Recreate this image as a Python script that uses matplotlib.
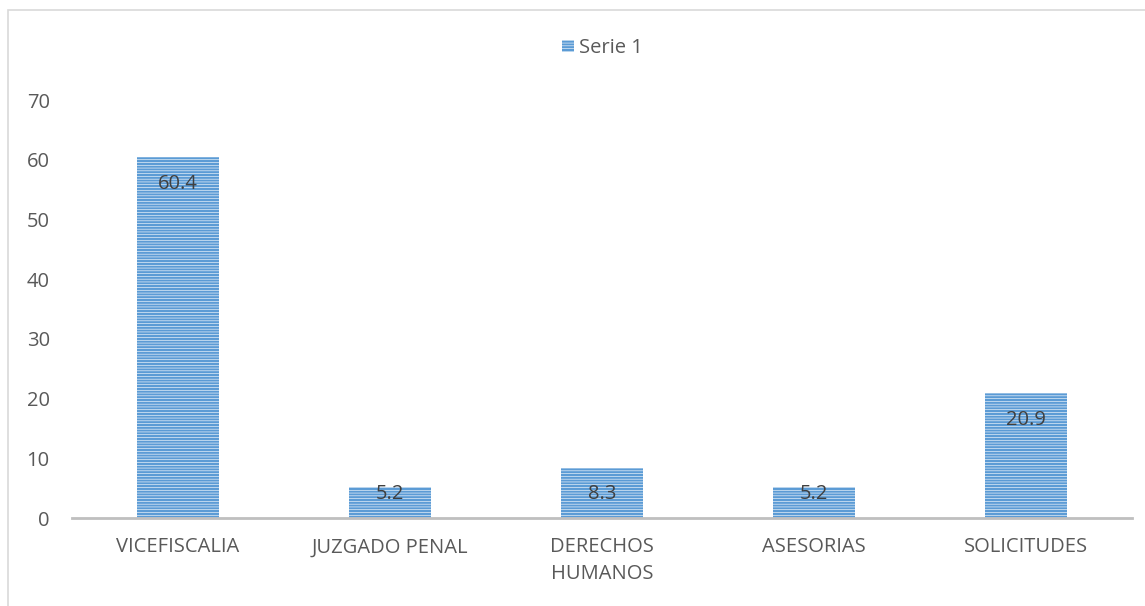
import numpy as np
import matplotlib.pyplot as plt
from matplotlib.patches import Rectangle

categorias = ['VICEFISCALIA', 'JUZGADO PENAL', 'DERECHOS\nHUMANOS', 'ASESORIAS', 'SOLICITUDES']
valores = [60.4, 5.2, 8.3, 5.2, 20.9]
yticks = [0, 10, 20, 30, 40, 50, 60, 70]

plt.rcParams['font.family'] = ['Open Sans', 'DejaVu Sans']
plt.rcParams['hatch.linewidth'] = 0.42

fig = plt.figure(figsize=(11.45, 6.06), dpi=100)
ax = fig.add_axes([72/1145, 1-518/606, 1060/1145, 418/606])

x = np.arange(len(categorias))
bars = ax.bar(x, valores, width=0.39, facecolor='#5B9BD5', edgecolor='white',
              hatch='------', linewidth=0, label='Serie 1', zorder=2)

# etiquetas dentro del extremo de la barra
for xi, v in zip(x, valores):
    ax.text(xi, max(v - 4.5, 4.0), f'{v:.1f}', ha='center', va='center',
            fontsize=14.5, color='#404040', zorder=3)

ax.set_xlim(-0.5, len(categorias) - 0.5)
ax.set_ylim(0, 70)
ax.set_yticks(yticks)
ax.set_xticks(x)
ax.set_xticklabels(categorias, linespacing=1.45)
ax.tick_params(axis='y', length=0, pad=16, labelsize=14.5, labelcolor='#595959')
ax.tick_params(axis='x', length=0, pad=14, labelsize=14.5, labelcolor='#595959')

for s in ['top', 'right', 'left']:
    ax.spines[s].set_visible(False)
ax.spines['bottom'].set_color('#BFBFBF')
ax.spines['bottom'].set_linewidth(2)
ax.spines['bottom'].set_zorder(4)

leg = ax.legend(loc='center', bbox_to_anchor=(0.5, 1 + (100-48)/418), frameon=False,
                fontsize=14.5, handlelength=0.6, handleheight=0.6, handletextpad=0.25,
                labelcolor='#595959')

# borde del área del gráfico
fig.patches.append(Rectangle((8/1145, -0.5), 2, 1.5 - 10/606, transform=fig.transFigure,
                             fill=False, edgecolor='#D9D9D9', linewidth=1.2))

fig.savefig('out.png', dpi=100)
